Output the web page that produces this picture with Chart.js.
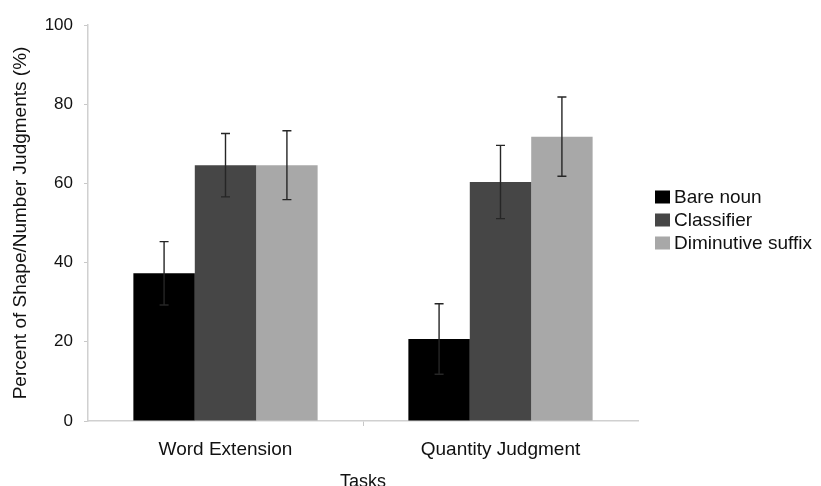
<!DOCTYPE html>
<html>
<head>
<meta charset="utf-8">
<script src="https://cdn.jsdelivr.net/npm/chart.js@4/dist/chart.umd.min.js"></script>
<style>
  html, body { margin: 0; padding: 0; background: #fff; overflow: hidden; }
  #wrap { width: 821px; height: 486px; position: relative; }
</style>
</head>
<body>
<div id="wrap"><canvas id="c" width="821" height="486"></canvas></div>
<script>
// ---- data ----
const categories = ["Word Extension", "Quantity Judgment"];
const seriesNames = ["Bare noun", "Classifier", "Diminutive suffix"];
const bareNoun = [37.3, 20.7];
const classifier = [64.6, 60.35];
const diminutive = [64.6, 71.8];
const bareNounErr = [8.0, 8.9];
const classifierErr = [8.0, 9.25];
const diminutiveErr = [8.7, 10.0];
const yTicks = [0, 20, 40, 60, 80, 100];
const xTitle = "Tasks";
const yTitle = "Percent of Shape/Number Judgments (%)";

const FONT = "'Liberation Sans', Arial, Helvetica, sans-serif";
const colors = ["#000000", "#464646", "#a8a8a8"];
const seriesValues = [bareNoun, classifier, diminutive];
const seriesErrs = [bareNounErr, classifierErr, diminutiveErr];

const errorBarPlugin = {
  id: 'errorBars',
  afterDatasetsDraw(chart) {
    const ctx = chart.ctx;
    const yScale = chart.scales.y;
    ctx.save();
    ctx.strokeStyle = '#262626';
    ctx.lineWidth = 1.4;
    chart.data.datasets.forEach((ds, di) => {
      const meta = chart.getDatasetMeta(di);
      meta.data.forEach((el, i) => {
        const v = ds.data[i], e = ds.errors[i];
        const x = el.x;
        const yt = yScale.getPixelForValue(v + e);
        const yb = yScale.getPixelForValue(v - e);
        ctx.beginPath();
        ctx.moveTo(x, yt); ctx.lineTo(x, yb);
        ctx.moveTo(x - 4.5, yt); ctx.lineTo(x + 4.5, yt);
        ctx.moveTo(x - 4.5, yb); ctx.lineTo(x + 4.5, yb);
        ctx.stroke();
      });
    });
    ctx.restore();
  }
};

const legendPlugin = {
  id: 'customLegend',
  afterDraw(chart) {
    const ctx = chart.ctx;
    ctx.save();
    ctx.font = "19px " + FONT;
    ctx.textBaseline = 'middle';
    ctx.textAlign = 'left';
    const x0 = chart.chartArea.right + 17;
    const yc = 220;
    const step = 23;
    chart.data.datasets.forEach((ds, i) => {
      const y = yc + (i - 1) * step;
      ctx.fillStyle = ds.backgroundColor;
      ctx.fillRect(x0, y - 6.5, 15, 13);
      ctx.fillStyle = '#111';
      ctx.fillText(ds.label, x0 + 19, y + 1);
    });
    ctx.restore();
  }
};

const datasets = seriesNames.map((name, i) => ({
  label: name,
  data: seriesValues[i],
  errors: seriesErrs[i],
  backgroundColor: colors[i],
  borderWidth: 0,
  categoryPercentage: 0.67,
  barPercentage: 1.0
}));

new Chart(document.getElementById('c'), {
  type: 'bar',
  data: { labels: categories, datasets },
  plugins: [errorBarPlugin, legendPlugin],
  options: {
    responsive: false,
    animation: false,
    devicePixelRatio: 1,
    layout: { padding: { top: 25, right: 183, bottom: 0, left: 0 } },
    plugins: { legend: { display: false }, tooltip: { enabled: false } },
    scales: {
      x: {
        afterFit(scale) { scale.height = 65; },
        grid: {
          offset: true,
          drawOnChartArea: false,
          drawTicks: true,
          tickLength: 5,
          tickColor: (c) => (c.index === 1 ? '#c8c8c8' : 'rgba(0,0,0,0)')
        },
        border: { color: '#d0d0d0', width: 1.5 },
        ticks: { color: '#111', font: { family: FONT, size: 19 }, padding: 12 },
        title: {
          display: true, text: xTitle, color: '#111',
          font: { family: FONT, size: 18, lineHeight: 1.0 },
          padding: { top: 0, bottom: -5 }
        }
      },
      y: {
        min: 0, max: 100,
        afterFit(scale) { scale.width = 88; },
        afterBuildTicks(scale) { scale.ticks = yTicks.map(v => ({ value: v })); },
        grid: { drawOnChartArea: false, drawTicks: true, tickLength: 4, tickColor: '#c8c8c8' },
        border: { color: '#d0d0d0', width: 1.5 },
        ticks: { color: '#111', font: { family: FONT, size: 17 }, padding: 11 },
        title: {
          display: true, text: yTitle, color: '#111',
          font: { family: FONT, size: 19 },
          padding: { top: 9, bottom: 0 }
        }
      }
    }
  }
});
</script>
</body>
</html>
